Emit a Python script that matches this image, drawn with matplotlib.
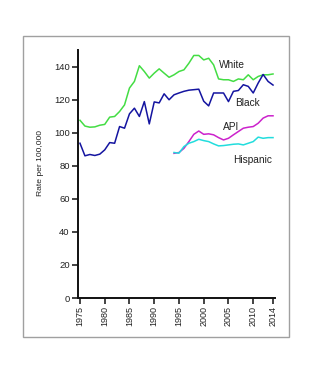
import matplotlib
matplotlib.use('Agg')
import matplotlib.pyplot as plt
from matplotlib.patches import Rectangle

plt.rcParams['font.family'] = ['Liberation Sans', 'DejaVu Sans']

# Data
years = list(range(1975, 2015))
white = [107.5, 104, 103.3, 103.5, 104.5, 105, 109.4, 109.8, 112.8, 116.8,
         127, 131, 140.5, 137, 133, 136, 138.6, 136, 133.5, 135,
         137, 138, 142, 146.7, 146.7, 144, 145, 141, 132.5, 132,
         132, 131, 132.5, 132, 135, 132, 134, 135, 135, 135.5]
black = [93.6, 86, 86.8, 86.2, 87, 89.6, 94, 93.6, 103.7, 102.7,
         111.4, 114.8, 109.8, 118.8, 105.3, 118.6, 118, 123.5, 119.9, 122.9,
         124, 125, 125.7, 126, 126.3, 119, 116.2, 124, 124, 124,
         118.8, 125, 125.5, 129, 128, 124, 130, 135.2, 131, 128.8]
years_short = list(range(1994, 2015))
api = [87.5, 88, 90.5, 94.6, 99, 101, 99, 99.3, 98.7, 97,
       95.6, 96.6, 98.7, 100.7, 102.7, 103.3, 103.7, 105.7, 108.8, 110.2, 110.2]
hispanic = [88, 87.6, 91.6, 93.6, 94.6, 96, 95.2, 94.6, 93.2, 92,
            92.2, 92.6, 93, 93.2, 92.6, 93.6, 94.6, 97.3, 96.6, 97, 97]

xticks = [1975, 1980, 1985, 1990, 1995, 2000, 2005, 2010, 2014]
yticks = list(range(0, 141, 20))

W, H = 330, 371
fig = plt.figure(figsize=(W / 100, H / 100), dpi=100)
fig.patch.set_facecolor('white')

# gray frame around the chart
fig.patches.append(Rectangle((23 / W, 1 - 336.5 / H), (289 - 23) / W, (336.5 - 36.3) / H,
                             transform=fig.transFigure, fill=False,
                             edgecolor='#a0a0a0', linewidth=1.0))

ax = fig.add_axes([78 / W, 1 - 298 / H, (275 - 78) / W, (298 - 50) / H])

ax.plot(years, white, color='#44dd44', linewidth=1.1)
ax.plot(years, black, color='#1414a0', linewidth=1.1)
ax.plot(years_short, api, color='#cc22cc', linewidth=1.1)
ax.plot(years_short, hispanic, color='#22dddd', linewidth=1.1)

ax.set_xlim(1974.6, 2014.4)
ax.set_ylim(0, 150)
ax.set_xticks(xticks)
ax.set_xticklabels([str(t) for t in xticks], rotation=90, fontsize=6.5)
ax.set_yticks(yticks)
ax.set_yticklabels([str(t) for t in yticks], fontsize=6.8)
ax.tick_params(axis='both', direction='out', length=4, width=1.2, colors='#222222', pad=2)

for side in ['top', 'right']:
    ax.spines[side].set_visible(False)
for side in ['left', 'bottom']:
    ax.spines[side].set_linewidth(1.4)
    ax.spines[side].set_color('#111111')

# series labels
lab = dict(fontsize=7.3, color='#222222', va='center', ha='left')
ax.text(2003, 141, 'White', **lab)
ax.text(2006.4, 118, 'Black', **lab)
ax.text(2003.9, 103.5, 'API', **lab)
ax.text(2006, 83.5, 'Hispanic', **lab)

fig.text(40.7 / W, 1 - 162.7 / H, 'Rate per 100,000', rotation=90,
         fontsize=6.1, color='#222222', ha='center', va='center')

fig.savefig('out.png', dpi=100)
